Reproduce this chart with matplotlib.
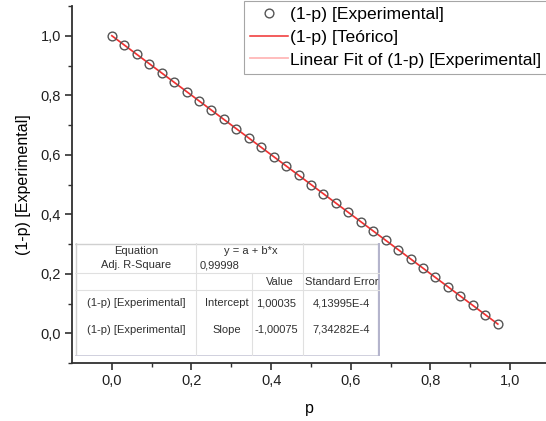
import matplotlib
matplotlib.use("Agg")
import matplotlib.pyplot as plt
from matplotlib.patches import Rectangle

plt.rcParams['font.family'] = ['Liberation Sans', 'DejaVu Sans']

# ---- data ----
p_exp = [0.0, 0.031, 0.062, 0.094, 0.125, 0.156, 0.188, 0.219, 0.25, 0.281,
         0.312, 0.344, 0.375, 0.406, 0.438, 0.469, 0.5, 0.531, 0.562, 0.594,
         0.625, 0.656, 0.688, 0.719, 0.75, 0.781, 0.812, 0.844, 0.875, 0.906,
         0.938, 0.969]
y_exp = [1.0, 0.969, 0.938, 0.906, 0.875, 0.844, 0.812, 0.781, 0.75, 0.719,
         0.688, 0.656, 0.625, 0.594, 0.562, 0.531, 0.5, 0.469, 0.438, 0.406,
         0.375, 0.344, 0.312, 0.281, 0.25, 0.219, 0.188, 0.156, 0.125, 0.094,
         0.062, 0.031]
p_theo = [0.0, 0.969]
y_theo = [1.0, 0.031]
fit_a = 1.00035
fit_b = -1.00075
fit_x = [0.0, 0.969]

xticks = [0.0, 0.2, 0.4, 0.6, 0.8, 1.0]
yticks = [0.0, 0.2, 0.4, 0.6, 0.8, 1.0]
xticklabels = ["0,0", "0,2", "0,4", "0,6", "0,8", "1,0"]
yticklabels = ["0,0", "0,2", "0,4", "0,6", "0,8", "1,0"]

table_rows = [
    ["Equation", "y = a + b*x", "", ""],
    ["Adj. R-Square", "0,99998", "", ""],
    ["", "", "Value", "Standard Error"],
    ["(1-p) [Experimental]", "Intercept", "1,00035", "4,13995E-4"],
    ["(1-p) [Experimental]", "Slope", "-1,00075", "7,34282E-4"],
]

W, H = 546, 421
fig = plt.figure(figsize=(W / 100, H / 100), dpi=100)
ax = fig.add_axes([72 / W, 1 - 363 / H, 1 - 72 / W, (363 - 6) / H])

fit_y = [fit_a + fit_b * x for x in fit_x]
l_fit, = ax.plot(fit_x, fit_y, color='#ffb8b8', lw=1.3, zorder=2)
l_theo, = ax.plot(p_theo, y_theo, color='#f03030', lw=1.1, zorder=3)
l_exp, = ax.plot(p_exp, y_exp, ls='none', marker='o', ms=6.3, mfc='none',
                 mec='#555555', mew=1.0, zorder=4)

ax.set_xlim(-0.1, 1.09)
ax.set_ylim(-0.1, 1.1)
ax.set_xticks(xticks)
ax.set_xticklabels(xticklabels)
ax.set_yticks(yticks)
ax.set_yticklabels(yticklabels)
ax.set_xticks([0.1, 0.3, 0.5, 0.7, 0.9], minor=True)
ax.set_yticks([-0.1, 0.1, 0.3, 0.5, 0.7, 0.9, 1.1], minor=True)
for s in ['top', 'right']:
    ax.spines[s].set_visible(False)
for s in ['left', 'bottom']:
    ax.spines[s].set_linewidth(1.3)
    ax.spines[s].set_color('#303030')
ax.tick_params(which='major', direction='out', length=5, width=1.2,
               colors='#303030', labelsize=10.5, pad=3, labelcolor='#202020')
ax.tick_params(which='minor', direction='out', length=3, width=1.0,
               colors='#303030')
ax.set_xlabel('p', fontsize=11.5, labelpad=9)
ax.set_ylabel('(1-p) [Experimental]', fontsize=11.5, labelpad=7)

leg = fig.legend([l_exp, l_theo, l_fit],
                 ['(1-p) [Experimental]', '(1-p) [Teórico]',
                  'Linear Fit of (1-p) [Experimental]'],
                 loc='upper left', bbox_to_anchor=(244 / W, 1 - 1 / H),
                 fontsize=12.6, frameon=True, fancybox=False,
                 handlelength=2.15, handletextpad=0.15, labelspacing=0.42,
                 borderpad=0.35, borderaxespad=0)
leg.get_frame().set_edgecolor('#909090')
leg.get_frame().set_linewidth(0.8)

# ---- table (pixel coordinates) ----
tx0, tx1, ty0, ty1 = 75, 380, 243, 356
tab = fig.add_axes([tx0 / W, 1 - ty1 / H, (tx1 - tx0) / W, (ty1 - ty0) / H])
tab.set_xlim(tx0, tx1)
tab.set_ylim(ty1, ty0)
tab.axis('off')
tab.add_patch(Rectangle((tx0, ty0), tx1 - tx0, ty1 - ty0, facecolor='white',
                        edgecolor='none', zorder=0))
grid_c = '#e0e0e0'
tab.plot([tx0 + 0.5, tx0 + 0.5], [ty0, ty1], color='#d0d0d0', lw=1)
tab.plot([tx0, tx1], [ty0 + 0.5, ty0 + 0.5], color='#d0d0d0', lw=1)
tab.plot([tx0, tx1], [ty1 - 0.5, ty1 - 0.5], color='#c8c8d8', lw=1.2)
tab.plot([tx1 - 1, tx1 - 1], [ty0, ty1], color='#b4b4cc', lw=1.6)
for x in [196, 303]:
    tab.plot([x, x], [ty0, ty1], color=grid_c, lw=0.8)
tab.plot([252, 252], [273, ty1], color=grid_c, lw=0.8)
for y in [273, 290]:
    tab.plot([tx0, tx1], [y, y], color=grid_c, lw=0.8)

row_y = [251, 265, 282, 303, 330]
fs = 8
tc = '#303030'
for r, yy in zip(table_rows, row_y):
    c0, c1, c2, c3 = r
    tab.text(136, yy, c0, ha='center', va='center', fontsize=fs, color=tc)
    if c1:
        if c1.startswith('y ='):
            tab.text(251, yy, c1, ha='center', va='center', fontsize=fs, color=tc)
        elif c1.startswith('0,'):
            tab.text(200, yy, c1, ha='left', va='center', fontsize=fs, color=tc)
        else:
            tab.text(227, yy, c1, ha='center', va='center', fontsize=fs, color=tc)
    if c2:
        if c2 == 'Value':
            tab.text(294, yy, c2, ha='right', va='center', fontsize=fs, color=tc)
        else:
            tab.text(276, yy, c2, ha='center', va='center', fontsize=fs, color=tc)
    if c3:
        if c3 == 'Standard Error':
            tab.text(305, yy, c3, ha='left', va='center', fontsize=fs,
                     color=tc, clip_on=True)
        else:
            tab.text(341, yy, c3, ha='center', va='center', fontsize=fs, color=tc)

fig.savefig('out.png', dpi=100)
